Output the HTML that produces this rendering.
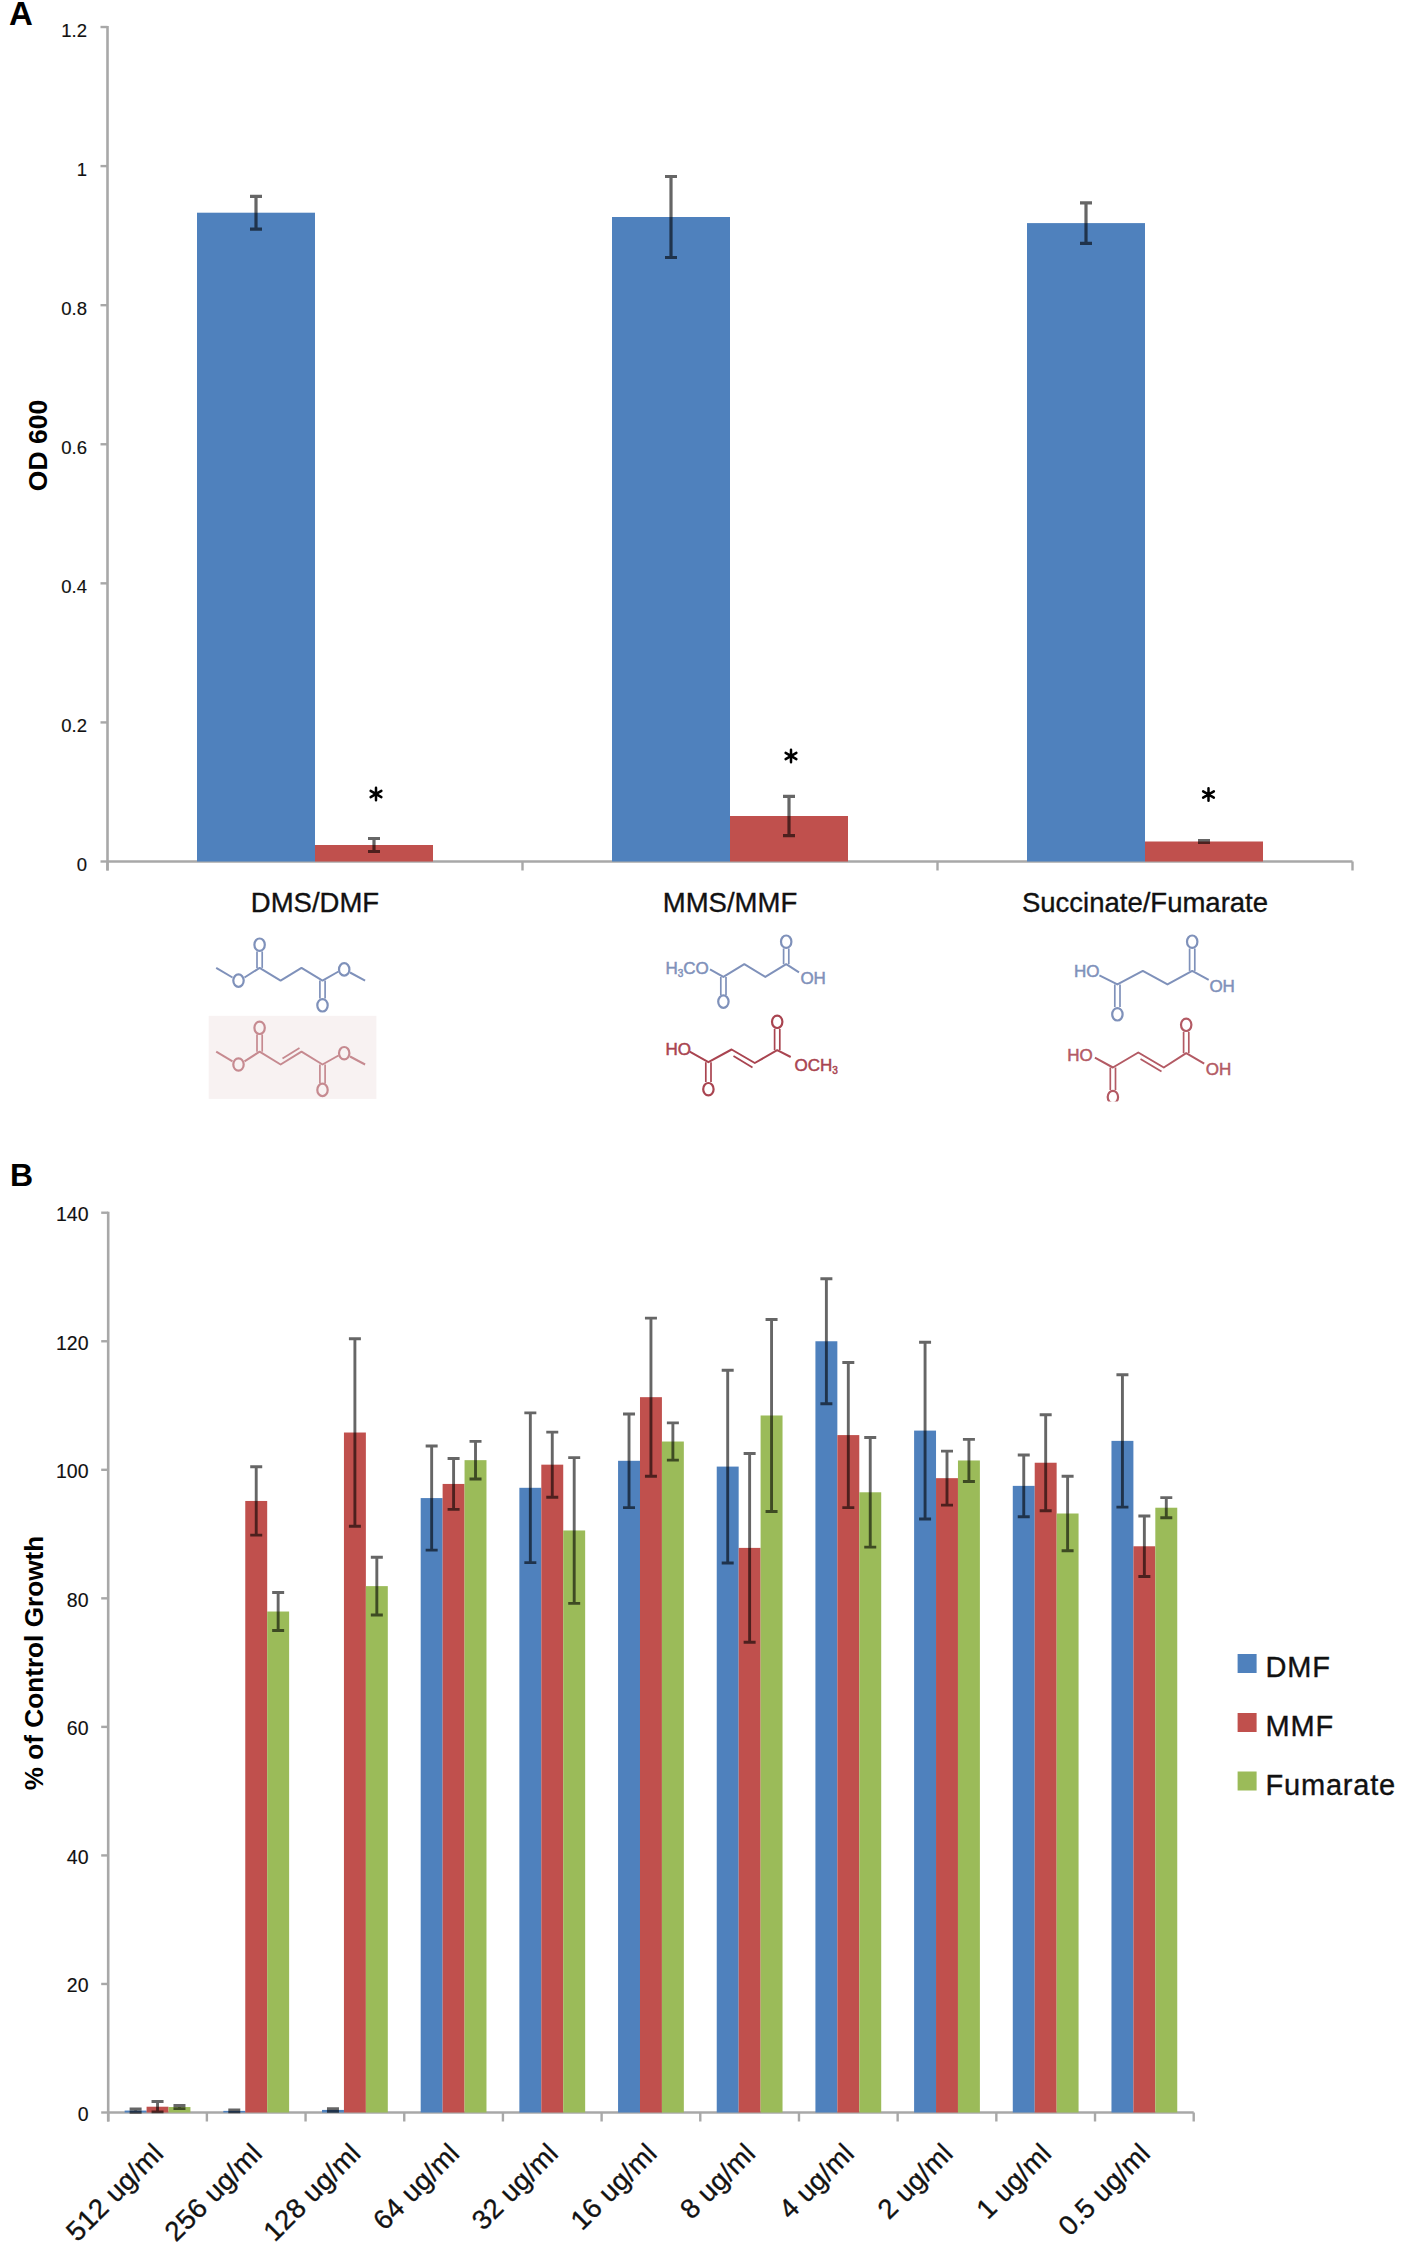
<!DOCTYPE html>
<html><head><meta charset="utf-8"><title>Figure</title>
<style>
html,body{margin:0;padding:0;background:#fff;}
body{width:1403px;height:2252px;overflow:hidden;font-family:"Liberation Sans",sans-serif;}
svg{display:block;}
</style></head><body>
<svg width="1403" height="2252" viewBox="0 0 1403 2252">
<rect width="1403" height="2252" fill="#fff"/>
<text x="9" y="25" font-family="Liberation Sans" font-weight="bold" font-size="33">A</text>
<path d="M107.5 26.02V870.5" stroke="#a8a8a8" stroke-width="2.6" fill="none"/>
<path d="M100.5 861.5H107.5" stroke="#a8a8a8" stroke-width="2.4"/>
<text x="87" y="871" text-anchor="end" font-family="Liberation Sans" font-size="18.5" fill="#111" stroke="#111" stroke-width="0.15">0</text>
<path d="M100.5 722.42H107.5" stroke="#a8a8a8" stroke-width="2.4"/>
<text x="87" y="731.92" text-anchor="end" font-family="Liberation Sans" font-size="18.5" fill="#111" stroke="#111" stroke-width="0.15">0.2</text>
<path d="M100.5 583.34H107.5" stroke="#a8a8a8" stroke-width="2.4"/>
<text x="87" y="592.84" text-anchor="end" font-family="Liberation Sans" font-size="18.5" fill="#111" stroke="#111" stroke-width="0.15">0.4</text>
<path d="M100.5 444.26H107.5" stroke="#a8a8a8" stroke-width="2.4"/>
<text x="87" y="453.76" text-anchor="end" font-family="Liberation Sans" font-size="18.5" fill="#111" stroke="#111" stroke-width="0.15">0.6</text>
<path d="M100.5 305.18H107.5" stroke="#a8a8a8" stroke-width="2.4"/>
<text x="87" y="314.68" text-anchor="end" font-family="Liberation Sans" font-size="18.5" fill="#111" stroke="#111" stroke-width="0.15">0.8</text>
<path d="M100.5 166.1H107.5" stroke="#a8a8a8" stroke-width="2.4"/>
<text x="87" y="175.6" text-anchor="end" font-family="Liberation Sans" font-size="18.5" fill="#111" stroke="#111" stroke-width="0.15">1</text>
<path d="M100.5 27.02H107.5" stroke="#a8a8a8" stroke-width="2.4"/>
<text x="87" y="36.52" text-anchor="end" font-family="Liberation Sans" font-size="18.5" fill="#111" stroke="#111" stroke-width="0.15">1.2</text>
<path d="M107.5 861.5H1352.5" stroke="#a8a8a8" stroke-width="2.6" fill="none"/>
<path d="M107.5 861.5V870.5" stroke="#a8a8a8" stroke-width="2.4"/>
<path d="M522.5 861.5V870.5" stroke="#a8a8a8" stroke-width="2.4"/>
<path d="M937.5 861.5V870.5" stroke="#a8a8a8" stroke-width="2.4"/>
<path d="M1352.5 861.5V870.5" stroke="#a8a8a8" stroke-width="2.4"/>
<rect x="197" y="212.7" width="118" height="648.8" fill="#4f81bd"/>
<rect x="315" y="845" width="118" height="16.5" fill="#c0504d"/>
<path d="M256 196.3V229.1M250 196.3H262M250 229.1H262" stroke="rgba(0,0,0,0.6)" stroke-width="3.2" fill="none"/>
<path d="M374 838.5V851.5M368 838.5H380M368 851.5H380" stroke="rgba(0,0,0,0.6)" stroke-width="3.2" fill="none"/>
<rect x="612" y="217" width="118" height="644.5" fill="#4f81bd"/>
<rect x="730" y="816" width="118" height="45.5" fill="#c0504d"/>
<path d="M671 176.5V257.5M665 176.5H677M665 257.5H677" stroke="rgba(0,0,0,0.6)" stroke-width="3.2" fill="none"/>
<path d="M789 796.4V835.6M783 796.4H795M783 835.6H795" stroke="rgba(0,0,0,0.6)" stroke-width="3.2" fill="none"/>
<rect x="1027" y="223.1" width="118" height="638.4" fill="#4f81bd"/>
<rect x="1145" y="841.5" width="118" height="20" fill="#c0504d"/>
<path d="M1086 202.9V243.3M1080 202.9H1092M1080 243.3H1092" stroke="rgba(0,0,0,0.6)" stroke-width="3.2" fill="none"/>
<path d="M1204 840.5V842.5M1198 840.5H1210M1198 842.5H1210" stroke="rgba(0,0,0,0.6)" stroke-width="3.2" fill="none"/>
<path d="M376 787.8L376 800.2M381.37 790.9L370.63 797.1M381.37 797.1L370.63 790.9" stroke="#000" stroke-width="2.5" stroke-linecap="round" fill="none"/>
<circle cx="376" cy="794" r="2.3" fill="#000"/>
<path d="M791 749.8L791 762.2M796.37 752.9L785.63 759.1M796.37 759.1L785.63 752.9" stroke="#000" stroke-width="2.5" stroke-linecap="round" fill="none"/>
<circle cx="791" cy="756" r="2.3" fill="#000"/>
<path d="M1208.5 788.3L1208.5 800.7M1213.87 791.4L1203.13 797.6M1213.87 797.6L1203.13 791.4" stroke="#000" stroke-width="2.5" stroke-linecap="round" fill="none"/>
<circle cx="1208.5" cy="794.5" r="2.3" fill="#000"/>
<text x="315" y="912" text-anchor="middle" font-family="Liberation Sans" font-size="27.5" fill="#111" stroke="#111" stroke-width="0.35">DMS/DMF</text>
<text x="730" y="912" text-anchor="middle" font-family="Liberation Sans" font-size="27.5" fill="#111" stroke="#111" stroke-width="0.35">MMS/MMF</text>
<text x="1145" y="912" text-anchor="middle" font-family="Liberation Sans" font-size="27.5" fill="#111" stroke="#111" stroke-width="0.35">Succinate/Fumarate</text>
<text transform="translate(46.5 445.5) rotate(-90)" text-anchor="middle" font-family="Liberation Sans" font-weight="bold" font-size="26.5">OD 600</text>
<path d="M216.2 967.9 L232.5 977.5" stroke="#7f91ba" stroke-width="2" fill="none" stroke-linejoin="round"/>
<ellipse cx="238.5" cy="980.6" rx="5.2" ry="6.2" stroke="#7f91ba" stroke-width="2.2" fill="none"/>
<path d="M244.5 977.5 L259.6 967.9 L280.6 980.6 L301.5 967.9 L322.5 980.6 L338.5 971.5" stroke="#7f91ba" stroke-width="2" fill="none" stroke-linejoin="round"/>
<ellipse cx="344.2" cy="969.4" rx="5.2" ry="6.2" stroke="#7f91ba" stroke-width="2.2" fill="none"/>
<path d="M350 972.5 L365.1 980.6" stroke="#7f91ba" stroke-width="2" fill="none" stroke-linejoin="round"/>
<path d="M257 951.5L257 967.9" stroke="#7f91ba" stroke-width="1.7" fill="none"/>
<path d="M262.2 951.5L262.2 967.9" stroke="#7f91ba" stroke-width="1.7" fill="none"/>
<ellipse cx="259.6" cy="944.7" rx="5.2" ry="6.2" stroke="#7f91ba" stroke-width="2.2" fill="none"/>
<path d="M319.9 980.6L319.9 998.5" stroke="#7f91ba" stroke-width="1.7" fill="none"/>
<path d="M325.1 980.6L325.1 998.5" stroke="#7f91ba" stroke-width="1.7" fill="none"/>
<ellipse cx="322.5" cy="1005.3" rx="5.2" ry="6.2" stroke="#7f91ba" stroke-width="2.2" fill="none"/>
<rect x="208.7" y="1015.8" width="167.7" height="83.1" fill="#f8f2f2"/>
<path d="M216.2 1051.7 L232.5 1061.3" stroke="#c68a90" stroke-width="2" fill="none" stroke-linejoin="round"/>
<ellipse cx="238.5" cy="1064.5" rx="5.2" ry="6.2" stroke="#c68a90" stroke-width="2.2" fill="none"/>
<path d="M244.5 1061.3 L259.6 1051.7 L280.6 1064.5 L301.5 1051.7 L322.5 1064.5 L338.5 1055.5" stroke="#c68a90" stroke-width="2" fill="none" stroke-linejoin="round"/>
<path d="M282.5 1058.5L299.5 1048" stroke="#c68a90" stroke-width="1.8" fill="none"/>
<ellipse cx="344.2" cy="1053.2" rx="5.2" ry="6.2" stroke="#c68a90" stroke-width="2.2" fill="none"/>
<path d="M350 1056.5 L365.1 1064.5" stroke="#c68a90" stroke-width="2" fill="none" stroke-linejoin="round"/>
<path d="M257 1034.5L257 1051.7" stroke="#c68a90" stroke-width="1.7" fill="none"/>
<path d="M262.2 1034.5L262.2 1051.7" stroke="#c68a90" stroke-width="1.7" fill="none"/>
<ellipse cx="259.6" cy="1027.8" rx="5.2" ry="6.2" stroke="#c68a90" stroke-width="2.2" fill="none"/>
<path d="M319.9 1064.5L319.9 1083.5" stroke="#c68a90" stroke-width="1.7" fill="none"/>
<path d="M325.1 1064.5L325.1 1083.5" stroke="#c68a90" stroke-width="1.7" fill="none"/>
<ellipse cx="322.5" cy="1089.9" rx="5.2" ry="6.2" stroke="#c68a90" stroke-width="2.2" fill="none"/>
<text x="665.5" y="974" font-family="Liberation Sans" font-size="17" fill="#7f91ba" stroke="#7f91ba" stroke-width="0.5" text-anchor="start">H<tspan font-size="10" dy="3">3</tspan><tspan dy="-3">CO</tspan></text>
<path d="M710 969.4 L723.4 976.9 L744.3 964.2 L765.3 976.9 L786.2 964.2 L799 972.4" stroke="#7f91ba" stroke-width="2" fill="none" stroke-linejoin="round"/>
<path d="M720.8 976.9L720.8 995" stroke="#7f91ba" stroke-width="1.7" fill="none"/>
<path d="M726 976.9L726 995" stroke="#7f91ba" stroke-width="1.7" fill="none"/>
<ellipse cx="723.4" cy="1001.6" rx="5.2" ry="6.2" stroke="#7f91ba" stroke-width="2.2" fill="none"/>
<path d="M783.6 948.5L783.6 964.2" stroke="#7f91ba" stroke-width="1.7" fill="none"/>
<path d="M788.8 948.5L788.8 964.2" stroke="#7f91ba" stroke-width="1.7" fill="none"/>
<ellipse cx="786.2" cy="941.7" rx="5.2" ry="6.2" stroke="#7f91ba" stroke-width="2.2" fill="none"/>
<text x="800.4" y="984" font-family="Liberation Sans" font-size="17" fill="#7f91ba" stroke="#7f91ba" stroke-width="0.5" text-anchor="start">OH</text>
<text x="665.5" y="1055" font-family="Liberation Sans" font-size="17" fill="#a94450" stroke="#a94450" stroke-width="0.5" text-anchor="start">HO</text>
<path d="M689.7 1051.7 L708.4 1062.2 L731.6 1049.5 L754.8 1063 L777.2 1050.2 L790.7 1057" stroke="#a94450" stroke-width="2" fill="none" stroke-linejoin="round"/>
<path d="M733.5 1056L752.5 1067.5" stroke="#a94450" stroke-width="1.8" fill="none"/>
<path d="M705.8 1062.2L705.8 1082" stroke="#a94450" stroke-width="1.7" fill="none"/>
<path d="M711 1062.2L711 1082" stroke="#a94450" stroke-width="1.7" fill="none"/>
<ellipse cx="708.4" cy="1089.2" rx="5.2" ry="6.2" stroke="#a94450" stroke-width="2.2" fill="none"/>
<path d="M774.6 1029L774.6 1050.2" stroke="#a94450" stroke-width="1.7" fill="none"/>
<path d="M779.8 1029L779.8 1050.2" stroke="#a94450" stroke-width="1.7" fill="none"/>
<ellipse cx="777.2" cy="1021.8" rx="5.2" ry="6.2" stroke="#a94450" stroke-width="2.2" fill="none"/>
<text x="794.5" y="1071" font-family="Liberation Sans" font-size="17" fill="#a94450" stroke="#a94450" stroke-width="0.5" text-anchor="start">OCH<tspan font-size="10" dy="3">3</tspan></text>
<text x="1074" y="977" font-family="Liberation Sans" font-size="17" fill="#7f91ba" stroke="#7f91ba" stroke-width="0.5" text-anchor="start">HO</text>
<path d="M1099.4 975.4 L1117.4 984.4 L1142.8 970.9 L1167.5 984.4 L1192.2 970.9 L1208.7 979.9" stroke="#7f91ba" stroke-width="2" fill="none" stroke-linejoin="round"/>
<path d="M1114.8 984.4L1114.8 1007" stroke="#7f91ba" stroke-width="1.7" fill="none"/>
<path d="M1120 984.4L1120 1007" stroke="#7f91ba" stroke-width="1.7" fill="none"/>
<ellipse cx="1117.4" cy="1014.3" rx="5.2" ry="6.2" stroke="#7f91ba" stroke-width="2.2" fill="none"/>
<path d="M1189.6 948.5L1189.6 970.9" stroke="#7f91ba" stroke-width="1.7" fill="none"/>
<path d="M1194.8 948.5L1194.8 970.9" stroke="#7f91ba" stroke-width="1.7" fill="none"/>
<ellipse cx="1192.2" cy="941.7" rx="5.2" ry="6.2" stroke="#7f91ba" stroke-width="2.2" fill="none"/>
<text x="1209.4" y="991.5" font-family="Liberation Sans" font-size="17" fill="#7f91ba" stroke="#7f91ba" stroke-width="0.5" text-anchor="start">OH</text>
<text x="1067.2" y="1060.5" font-family="Liberation Sans" font-size="17" fill="#b35a64" stroke="#b35a64" stroke-width="0.5" text-anchor="start">HO</text>
<path d="M1094.9 1057.7 L1112.9 1067.5 L1138.3 1052.5 L1163.8 1067.5 L1186.2 1053.2 L1204.2 1063.7" stroke="#b35a64" stroke-width="2" fill="none" stroke-linejoin="round"/>
<path d="M1140.5 1059L1161.5 1071.5" stroke="#b35a64" stroke-width="1.8" fill="none"/>
<path d="M1110.3 1067.5L1110.3 1090" stroke="#b35a64" stroke-width="1.7" fill="none"/>
<path d="M1115.5 1067.5L1115.5 1090" stroke="#b35a64" stroke-width="1.7" fill="none"/>
<ellipse cx="1112.9" cy="1097" rx="5.2" ry="6.2" stroke="#b35a64" stroke-width="2.2" fill="none"/>
<path d="M1183.6 1032L1183.6 1053.2" stroke="#b35a64" stroke-width="1.7" fill="none"/>
<path d="M1188.8 1032L1188.8 1053.2" stroke="#b35a64" stroke-width="1.7" fill="none"/>
<ellipse cx="1186.2" cy="1024.8" rx="5.2" ry="6.2" stroke="#b35a64" stroke-width="2.2" fill="none"/>
<text x="1205.7" y="1074.5" font-family="Liberation Sans" font-size="17" fill="#b35a64" stroke="#b35a64" stroke-width="0.5" text-anchor="start">OH</text>
<rect x="1100" y="1101.5" width="30" height="10" fill="#fff"/>
<text x="10" y="1185.5" font-family="Liberation Sans" font-weight="bold" font-size="32">B</text>
<path d="M108.2 1211.72V2121.5" stroke="#a8a8a8" stroke-width="2.6" fill="none"/>
<path d="M101.2 2112.5H108.2" stroke="#a8a8a8" stroke-width="2.4"/>
<text x="88.5" y="2121" text-anchor="end" font-family="Liberation Sans" font-size="19.5" fill="#111" stroke="#111" stroke-width="0.15">0</text>
<path d="M101.2 1983.96H108.2" stroke="#a8a8a8" stroke-width="2.4"/>
<text x="88.5" y="1992.46" text-anchor="end" font-family="Liberation Sans" font-size="19.5" fill="#111" stroke="#111" stroke-width="0.15">20</text>
<path d="M101.2 1855.42H108.2" stroke="#a8a8a8" stroke-width="2.4"/>
<text x="88.5" y="1863.92" text-anchor="end" font-family="Liberation Sans" font-size="19.5" fill="#111" stroke="#111" stroke-width="0.15">40</text>
<path d="M101.2 1726.88H108.2" stroke="#a8a8a8" stroke-width="2.4"/>
<text x="88.5" y="1735.38" text-anchor="end" font-family="Liberation Sans" font-size="19.5" fill="#111" stroke="#111" stroke-width="0.15">60</text>
<path d="M101.2 1598.34H108.2" stroke="#a8a8a8" stroke-width="2.4"/>
<text x="88.5" y="1606.84" text-anchor="end" font-family="Liberation Sans" font-size="19.5" fill="#111" stroke="#111" stroke-width="0.15">80</text>
<path d="M101.2 1469.8H108.2" stroke="#a8a8a8" stroke-width="2.4"/>
<text x="88.5" y="1478.3" text-anchor="end" font-family="Liberation Sans" font-size="19.5" fill="#111" stroke="#111" stroke-width="0.15">100</text>
<path d="M101.2 1341.26H108.2" stroke="#a8a8a8" stroke-width="2.4"/>
<text x="88.5" y="1349.76" text-anchor="end" font-family="Liberation Sans" font-size="19.5" fill="#111" stroke="#111" stroke-width="0.15">120</text>
<path d="M101.2 1212.72H108.2" stroke="#a8a8a8" stroke-width="2.4"/>
<text x="88.5" y="1221.22" text-anchor="end" font-family="Liberation Sans" font-size="19.5" fill="#111" stroke="#111" stroke-width="0.15">140</text>
<path d="M108.2 2112.5H1193.7" stroke="#a8a8a8" stroke-width="2.6" fill="none"/>
<path d="M108.2 2112.5V2121.5" stroke="#a8a8a8" stroke-width="2.4"/>
<path d="M206.88 2112.5V2121.5" stroke="#a8a8a8" stroke-width="2.4"/>
<path d="M305.56 2112.5V2121.5" stroke="#a8a8a8" stroke-width="2.4"/>
<path d="M404.25 2112.5V2121.5" stroke="#a8a8a8" stroke-width="2.4"/>
<path d="M502.93 2112.5V2121.5" stroke="#a8a8a8" stroke-width="2.4"/>
<path d="M601.61 2112.5V2121.5" stroke="#a8a8a8" stroke-width="2.4"/>
<path d="M700.29 2112.5V2121.5" stroke="#a8a8a8" stroke-width="2.4"/>
<path d="M798.97 2112.5V2121.5" stroke="#a8a8a8" stroke-width="2.4"/>
<path d="M897.65 2112.5V2121.5" stroke="#a8a8a8" stroke-width="2.4"/>
<path d="M996.34 2112.5V2121.5" stroke="#a8a8a8" stroke-width="2.4"/>
<path d="M1095.02 2112.5V2121.5" stroke="#a8a8a8" stroke-width="2.4"/>
<path d="M1193.7 2112.5V2121.5" stroke="#a8a8a8" stroke-width="2.4"/>
<rect x="124.65" y="2110.57" width="21.93" height="1.93" fill="#4f81bd"/>
<rect x="146.58" y="2106.72" width="21.93" height="5.78" fill="#c0504d"/>
<rect x="168.51" y="2107.04" width="21.93" height="5.46" fill="#9bbb59"/>
<rect x="223.33" y="2110.89" width="21.93" height="1.61" fill="#4f81bd"/>
<rect x="245.26" y="1500.97" width="21.93" height="611.53" fill="#c0504d"/>
<rect x="267.19" y="1611.52" width="21.93" height="500.98" fill="#9bbb59"/>
<rect x="322.01" y="2109.93" width="21.93" height="2.57" fill="#4f81bd"/>
<rect x="343.94" y="1432.52" width="21.93" height="679.98" fill="#c0504d"/>
<rect x="365.87" y="1586.13" width="21.93" height="526.37" fill="#9bbb59"/>
<rect x="420.69" y="1498.08" width="21.93" height="614.42" fill="#4f81bd"/>
<rect x="442.62" y="1483.94" width="21.93" height="628.56" fill="#c0504d"/>
<rect x="464.55" y="1460.16" width="21.93" height="652.34" fill="#9bbb59"/>
<rect x="519.37" y="1487.8" width="21.93" height="624.7" fill="#4f81bd"/>
<rect x="541.3" y="1464.66" width="21.93" height="647.84" fill="#c0504d"/>
<rect x="563.23" y="1530.47" width="21.93" height="582.03" fill="#9bbb59"/>
<rect x="618.06" y="1460.8" width="21.93" height="651.7" fill="#4f81bd"/>
<rect x="639.99" y="1397.17" width="21.93" height="715.33" fill="#c0504d"/>
<rect x="661.91" y="1441.52" width="21.93" height="670.98" fill="#9bbb59"/>
<rect x="716.74" y="1466.59" width="21.93" height="645.91" fill="#4f81bd"/>
<rect x="738.67" y="1547.89" width="21.93" height="564.61" fill="#c0504d"/>
<rect x="760.6" y="1415.49" width="21.93" height="697.01" fill="#9bbb59"/>
<rect x="815.42" y="1341.26" width="21.93" height="771.24" fill="#4f81bd"/>
<rect x="837.35" y="1435.09" width="21.93" height="677.41" fill="#c0504d"/>
<rect x="859.28" y="1492.29" width="21.93" height="620.21" fill="#9bbb59"/>
<rect x="914.1" y="1430.6" width="21.93" height="681.9" fill="#4f81bd"/>
<rect x="936.03" y="1478.16" width="21.93" height="634.34" fill="#c0504d"/>
<rect x="957.96" y="1460.48" width="21.93" height="652.02" fill="#9bbb59"/>
<rect x="1012.78" y="1485.87" width="21.93" height="626.63" fill="#4f81bd"/>
<rect x="1034.71" y="1462.73" width="21.93" height="649.77" fill="#c0504d"/>
<rect x="1056.64" y="1513.5" width="21.93" height="599" fill="#9bbb59"/>
<rect x="1111.47" y="1440.88" width="21.93" height="671.62" fill="#4f81bd"/>
<rect x="1133.39" y="1546.28" width="21.93" height="566.22" fill="#c0504d"/>
<rect x="1155.32" y="1507.72" width="21.93" height="604.78" fill="#9bbb59"/>
<path d="M135.61 2108.97V2112.18M129.61 2108.97H141.61M129.61 2112.18H141.61" stroke="rgba(0,0,0,0.6)" stroke-width="2.9" fill="none"/>
<path d="M157.54 2101.57V2111.86M151.54 2101.57H163.54M151.54 2111.86H163.54" stroke="rgba(0,0,0,0.6)" stroke-width="2.9" fill="none"/>
<path d="M179.47 2105.43V2108.64M173.47 2105.43H185.47M173.47 2108.64H185.47" stroke="rgba(0,0,0,0.6)" stroke-width="2.9" fill="none"/>
<path d="M234.29 2109.93V2111.86M228.29 2109.93H240.29M228.29 2111.86H240.29" stroke="rgba(0,0,0,0.6)" stroke-width="2.9" fill="none"/>
<path d="M256.22 1466.78V1535.16M250.22 1466.78H262.22M250.22 1535.16H262.22" stroke="rgba(0,0,0,0.6)" stroke-width="2.9" fill="none"/>
<path d="M278.15 1592.49V1630.54M272.15 1592.49H284.15M272.15 1630.54H284.15" stroke="rgba(0,0,0,0.6)" stroke-width="2.9" fill="none"/>
<path d="M332.98 2108.64V2111.21M326.98 2108.64H338.98M326.98 2111.21H338.98" stroke="rgba(0,0,0,0.6)" stroke-width="2.9" fill="none"/>
<path d="M354.9 1338.82V1526.23M348.9 1338.82H360.9M348.9 1526.23H360.9" stroke="rgba(0,0,0,0.6)" stroke-width="2.9" fill="none"/>
<path d="M376.83 1557.21V1615.05M370.83 1557.21H382.83M370.83 1615.05H382.83" stroke="rgba(0,0,0,0.6)" stroke-width="2.9" fill="none"/>
<path d="M431.66 1446.02V1550.14M425.66 1446.02H437.66M425.66 1550.14H437.66" stroke="rgba(0,0,0,0.6)" stroke-width="2.9" fill="none"/>
<path d="M453.59 1458.55V1509.33M447.59 1458.55H459.59M447.59 1509.33H459.59" stroke="rgba(0,0,0,0.6)" stroke-width="2.9" fill="none"/>
<path d="M475.52 1441.33V1478.99M469.52 1441.33H481.52M469.52 1478.99H481.52" stroke="rgba(0,0,0,0.6)" stroke-width="2.9" fill="none"/>
<path d="M530.34 1412.92V1562.67M524.34 1412.92H536.34M524.34 1562.67H536.34" stroke="rgba(0,0,0,0.6)" stroke-width="2.9" fill="none"/>
<path d="M552.27 1432.14V1497.18M546.27 1432.14H558.27M546.27 1497.18H558.27" stroke="rgba(0,0,0,0.6)" stroke-width="2.9" fill="none"/>
<path d="M574.2 1457.59V1603.35M568.2 1457.59H580.2M568.2 1603.35H580.2" stroke="rgba(0,0,0,0.6)" stroke-width="2.9" fill="none"/>
<path d="M629.02 1413.95V1507.66M623.02 1413.95H635.02M623.02 1507.66H635.02" stroke="rgba(0,0,0,0.6)" stroke-width="2.9" fill="none"/>
<path d="M650.95 1318.12V1476.23M644.95 1318.12H656.95M644.95 1476.23H656.95" stroke="rgba(0,0,0,0.6)" stroke-width="2.9" fill="none"/>
<path d="M672.88 1422.88V1460.16M666.88 1422.88H678.88M666.88 1460.16H678.88" stroke="rgba(0,0,0,0.6)" stroke-width="2.9" fill="none"/>
<path d="M727.7 1370.18V1562.99M721.7 1370.18H733.7M721.7 1562.99H733.7" stroke="rgba(0,0,0,0.6)" stroke-width="2.9" fill="none"/>
<path d="M749.63 1453.48V1642.3M743.63 1453.48H755.63M743.63 1642.3H755.63" stroke="rgba(0,0,0,0.6)" stroke-width="2.9" fill="none"/>
<path d="M771.56 1319.47V1511.51M765.56 1319.47H777.56M765.56 1511.51H777.56" stroke="rgba(0,0,0,0.6)" stroke-width="2.9" fill="none"/>
<path d="M826.38 1278.79V1403.73M820.38 1278.79H832.38M820.38 1403.73H832.38" stroke="rgba(0,0,0,0.6)" stroke-width="2.9" fill="none"/>
<path d="M848.31 1362.53V1507.66M842.31 1362.53H854.31M842.31 1507.66H854.31" stroke="rgba(0,0,0,0.6)" stroke-width="2.9" fill="none"/>
<path d="M870.24 1437.47V1547.12M864.24 1437.47H876.24M864.24 1547.12H876.24" stroke="rgba(0,0,0,0.6)" stroke-width="2.9" fill="none"/>
<path d="M925.07 1342.22V1518.97M919.07 1342.22H931.07M919.07 1518.97H931.07" stroke="rgba(0,0,0,0.6)" stroke-width="2.9" fill="none"/>
<path d="M947 1451.16V1505.15M941 1451.16H953M941 1505.15H953" stroke="rgba(0,0,0,0.6)" stroke-width="2.9" fill="none"/>
<path d="M968.92 1439.4V1481.56M962.92 1439.4H974.92M962.92 1481.56H974.92" stroke="rgba(0,0,0,0.6)" stroke-width="2.9" fill="none"/>
<path d="M1023.75 1455.02V1516.72M1017.75 1455.02H1029.75M1017.75 1516.72H1029.75" stroke="rgba(0,0,0,0.6)" stroke-width="2.9" fill="none"/>
<path d="M1045.68 1414.72V1510.74M1039.68 1414.72H1051.68M1039.68 1510.74H1051.68" stroke="rgba(0,0,0,0.6)" stroke-width="2.9" fill="none"/>
<path d="M1067.61 1476.23V1550.78M1061.61 1476.23H1073.61M1061.61 1550.78H1073.61" stroke="rgba(0,0,0,0.6)" stroke-width="2.9" fill="none"/>
<path d="M1122.43 1374.68V1507.08M1116.43 1374.68H1128.43M1116.43 1507.08H1128.43" stroke="rgba(0,0,0,0.6)" stroke-width="2.9" fill="none"/>
<path d="M1144.36 1516.07V1576.49M1138.36 1516.07H1150.36M1138.36 1576.49H1150.36" stroke="rgba(0,0,0,0.6)" stroke-width="2.9" fill="none"/>
<path d="M1166.29 1497.63V1517.81M1160.29 1497.63H1172.29M1160.29 1517.81H1172.29" stroke="rgba(0,0,0,0.6)" stroke-width="2.9" fill="none"/>
<text transform="translate(165.04 2155) rotate(-45)" text-anchor="end" font-family="Liberation Sans" font-size="27.5" letter-spacing="0.35" fill="#111" stroke="#111" stroke-width="0.35">512 ug/ml</text>
<text transform="translate(263.72 2155) rotate(-45)" text-anchor="end" font-family="Liberation Sans" font-size="27.5" letter-spacing="0.35" fill="#111" stroke="#111" stroke-width="0.35">256 ug/ml</text>
<text transform="translate(362.4 2155) rotate(-45)" text-anchor="end" font-family="Liberation Sans" font-size="27.5" letter-spacing="0.35" fill="#111" stroke="#111" stroke-width="0.35">128 ug/ml</text>
<text transform="translate(461.09 2155) rotate(-45)" text-anchor="end" font-family="Liberation Sans" font-size="27.5" letter-spacing="0.35" fill="#111" stroke="#111" stroke-width="0.35">64 ug/ml</text>
<text transform="translate(559.77 2155) rotate(-45)" text-anchor="end" font-family="Liberation Sans" font-size="27.5" letter-spacing="0.35" fill="#111" stroke="#111" stroke-width="0.35">32 ug/ml</text>
<text transform="translate(658.45 2155) rotate(-45)" text-anchor="end" font-family="Liberation Sans" font-size="27.5" letter-spacing="0.35" fill="#111" stroke="#111" stroke-width="0.35">16 ug/ml</text>
<text transform="translate(757.13 2155) rotate(-45)" text-anchor="end" font-family="Liberation Sans" font-size="27.5" letter-spacing="0.35" fill="#111" stroke="#111" stroke-width="0.35">8 ug/ml</text>
<text transform="translate(855.81 2155) rotate(-45)" text-anchor="end" font-family="Liberation Sans" font-size="27.5" letter-spacing="0.35" fill="#111" stroke="#111" stroke-width="0.35">4 ug/ml</text>
<text transform="translate(954.5 2155) rotate(-45)" text-anchor="end" font-family="Liberation Sans" font-size="27.5" letter-spacing="0.35" fill="#111" stroke="#111" stroke-width="0.35">2 ug/ml</text>
<text transform="translate(1053.18 2155) rotate(-45)" text-anchor="end" font-family="Liberation Sans" font-size="27.5" letter-spacing="0.35" fill="#111" stroke="#111" stroke-width="0.35">1 ug/ml</text>
<text transform="translate(1151.86 2155) rotate(-45)" text-anchor="end" font-family="Liberation Sans" font-size="27.5" letter-spacing="0.35" fill="#111" stroke="#111" stroke-width="0.35">0.5 ug/ml</text>
<text transform="translate(43 1663) rotate(-90)" text-anchor="middle" font-family="Liberation Sans" font-weight="bold" font-size="26.2">% of Control Growth</text>
<rect x="1237.6" y="1654" width="19" height="19" fill="#4f81bd"/>
<text x="1265.5" y="1677.2" font-family="Liberation Sans" font-size="29" letter-spacing="0.8" fill="#111" stroke="#111" stroke-width="0.35">DMF</text>
<rect x="1237.6" y="1713" width="19" height="19" fill="#c0504d"/>
<text x="1265.5" y="1736.2" font-family="Liberation Sans" font-size="29" letter-spacing="0.8" fill="#111" stroke="#111" stroke-width="0.35">MMF</text>
<rect x="1237.6" y="1771.5" width="19" height="19" fill="#9bbb59"/>
<text x="1265.5" y="1794.7" font-family="Liberation Sans" font-size="29" letter-spacing="0.8" fill="#111" stroke="#111" stroke-width="0.35">Fumarate</text>
</svg>
</body></html>
